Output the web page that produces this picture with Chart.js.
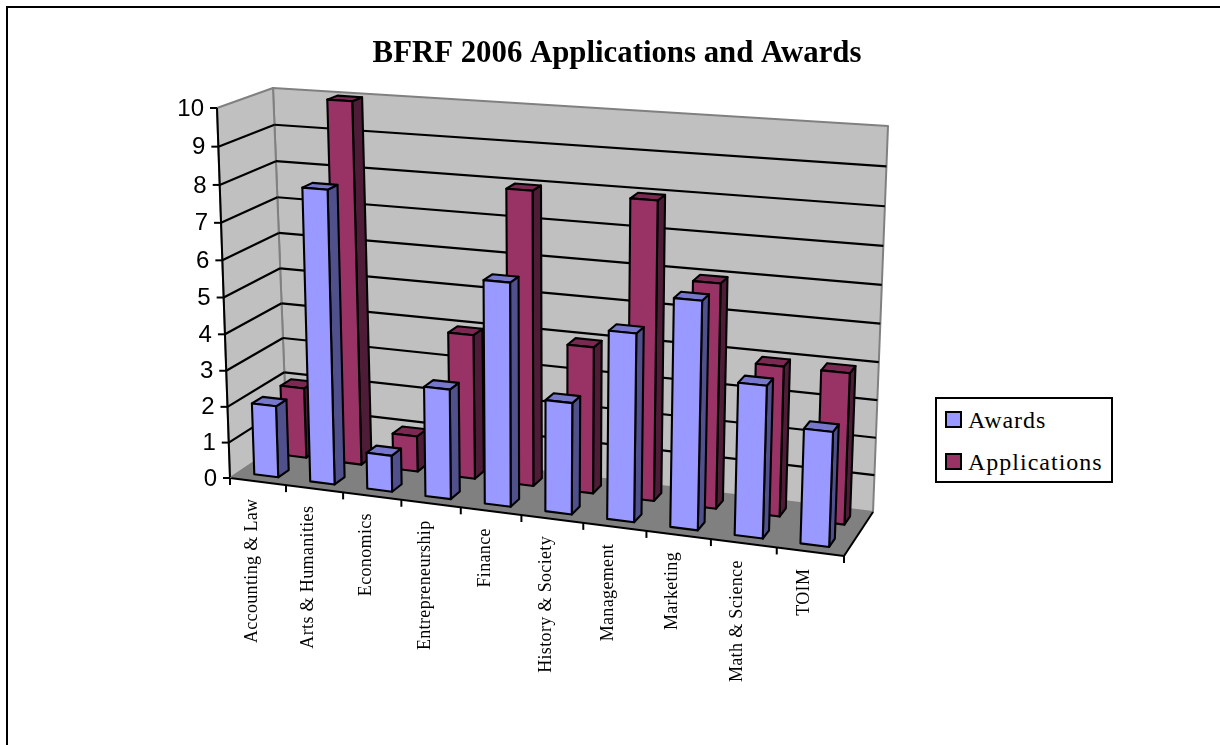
<!DOCTYPE html>
<html>
<head>
<meta charset="utf-8">
<title>BFRF 2006 Applications and Awards</title>
<script src="https://cdn.jsdelivr.net/npm/chart.js@4"></script>
<style>
  html, body { margin: 0; background: #fff; }
  #wrap { position: relative; width: 1220px; height: 745px; overflow: hidden; }
  #frame { position: absolute; left: 6px; top: 6px; width: 1300px; height: 800px; border: 2px solid #000; box-sizing: border-box; }
  canvas { position: absolute; left: 0; top: 0; }
  #legend { position: absolute; left: 935px; top: 397px; width: 178px; height: 86px; border: 2px solid #000; box-sizing: border-box; background: #fff;
            font: 24px "Liberation Serif", serif; letter-spacing: 1px; color: #000; }
  #legend div { position: absolute; left: 8px; white-space: nowrap; line-height: 28px; }
  #legend i { display: inline-block; width: 13px; height: 13px; border: 2px solid #000; margin-right: 6px; }
</style>
</head>
<body>
<div id="wrap">
  <div id="frame"></div>
  <canvas id="chart" width="1220" height="745"></canvas>
  <div id="legend"></div>
</div>
<script>
const titleText = "BFRF 2006 Applications and Awards";
const categories = ["Accounting & Law", "Arts & Humanities", "Economics", "Entrepreneurship", "Finance",
  "History & Society", "Management", "Marketing", "Math & Science", "TOIM"];
const awards = [2, 8, 1, 3, 6, 3, 5, 6, 4, 3];
const applications = [2, 10, 1, 4, 8, 4, 8, 6, 4, 4];
const valueTicks = [0, 1, 2, 3, 4, 5, 6, 7, 8, 9, 10];

// box corners of the old 3D plot on screen: floor and top, front and back
const box = {
  floorFront: [[230, 478], [844, 556]],
  floorBack: [[287, 440], [873, 512]],
  topFront: [[217, 108], [858, 156]],
  topBack: [[273, 88], [888, 126]],
};
const perspective = 1.107;   // categories get wider towards the right
const perspectiveUp = 1.05;  // value steps get a bit wider towards the top
// each series sits in its own row, front to back
const rows = [[0.15, 0.34], [0.66, 0.85]];
const shades = [
  { front: "#9999FF", side: "#50508C", top: "#7777CC" },
  { front: "#993366", side: "#4F1C38", top: "#7A2952" },
];

function lerp(a, b, t) { return [a[0] + (b[0] - a[0]) * t, a[1] + (b[1] - a[1]) * t]; }

// u along categories, d into the depth, v up the value axis, all 0..1
function project(u, d, v) {
  const w = u / (u + (1 - u) * perspective);
  const h = v / (v + (1 - v) * perspectiveUp);
  const floor = lerp(lerp(box.floorFront[0], box.floorFront[1], w), lerp(box.floorBack[0], box.floorBack[1], w), d);
  const top = lerp(lerp(box.topFront[0], box.topFront[1], w), lerp(box.topBack[0], box.topBack[1], w), d);
  return lerp(floor, top, h);
}

function poly(ctx, pts, fill, stroke, lw) {
  ctx.beginPath();
  pts.forEach((p, i) => i ? ctx.lineTo(p[0], p[1]) : ctx.moveTo(p[0], p[1]));
  ctx.closePath();
  if (fill) { ctx.fillStyle = fill; ctx.fill(); }
  if (stroke) { ctx.strokeStyle = stroke; ctx.lineWidth = lw; ctx.lineJoin = "round"; ctx.stroke(); }
}

function line(ctx, a, b, color, lw) {
  ctx.beginPath();
  ctx.moveTo(a[0], a[1]);
  ctx.lineTo(b[0], b[1]);
  ctx.strokeStyle = color;
  ctx.lineWidth = lw;
  ctx.stroke();
}

// scale pixels to 0..1
function normX(chart, px) { const s = chart.scales.x; return (px - s.left) / (s.right - s.left); }
function normY(chart, px) { const s = chart.scales.y; return (s.bottom - px) / (s.bottom - s.top); }

let drawing = null;

// bar elements keep their scale geometry, only the painting goes through the projection
Chart.BarElement.prototype.draw = function (ctx) {
  const chart = drawing.chart;
  const ds = drawing.index;
  const { x, y, base, width } = this.getProps(["x", "y", "base", "width"], true);
  const u1 = normX(chart, x - width / 2), u2 = normX(chart, x + width / 2);
  const v0 = normY(chart, base), v1 = normY(chart, y);
  const [d1, d2] = rows[ds];
  const c = shades[ds];
  ctx.save();
  poly(ctx, [project(u2, d1, v0), project(u2, d2, v0), project(u2, d2, v1), project(u2, d1, v1)], c.side, "#000", 2.1);
  poly(ctx, [project(u1, d1, v1), project(u2, d1, v1), project(u2, d2, v1), project(u1, d2, v1)], c.top, "#000", 2.1);
  poly(ctx, [project(u1, d1, v0), project(u2, d1, v0), project(u2, d1, v1), project(u1, d1, v1)], c.front, "#000", 2.1);
  ctx.restore();
};

const walls = {
  id: "walls",
  beforeDatasetDraw(chart, args) { drawing = { chart, index: args.index }; },
  beforeDatasetsDraw(chart) {
    const ctx = chart.ctx;
    const ys = chart.scales.y, xs = chart.scales.x;
    ctx.save();
    // back wall, left wall, floor
    poly(ctx, [project(0, 1, 0), project(1, 1, 0), project(1, 1, 1), project(0, 1, 1)], "#C0C0C0", "#808080", 2);
    poly(ctx, [project(0, 0, 0), project(0, 1, 0), project(0, 1, 1), project(0, 0, 1)], "#C0C0C0", "#808080", 2);
    poly(ctx, [project(0, 0, 0), project(1, 0, 0), project(1, 1, 0), project(0, 1, 0)], "#808080", null, 0);

    // gridlines, ticks and value labels
    ctx.font = '24px "Liberation Sans", Arial, sans-serif';
    ctx.fillStyle = "#000";
    ctx.textAlign = "right";
    ctx.textBaseline = "middle";
    ys.ticks.forEach(t => {
      const v = normY(chart, ys.getPixelForValue(t.value));
      const front = project(0, 0, v);
      if (t.value > 0 && t.value < 10) {
        line(ctx, front, project(0, 1, v), "#000", 2.2);
        line(ctx, project(0, 1, v), project(1, 1, v), "#000", 2.2);
      }
      line(ctx, [front[0] - 7, front[1]], front, "#000", 2);
      ctx.fillStyle = "#000";
      ctx.fillText(t.label, front[0] - 13, front[1] + 1);
    });

    // axis lines on the front edges
    line(ctx, project(0, 0, 0), project(0, 0, 1), "#000", 2);
    line(ctx, project(0, 0, 0), project(1, 0, 0), "#000", 2);
    line(ctx, project(1, 0, 0), project(1, 1, 0), "#000", 2);
    line(ctx, project(0, 0, 0), project(0, 1, 0), "#808080", 1);

    // category ticks and rotated labels
    ctx.font = '18px "Liberation Serif", "Times New Roman", serif';
    ctx.letterSpacing = "0.35px";
    ctx.textAlign = "right";
    ctx.textBaseline = "middle";
    const n = categories.length;
    for (let i = 0; i <= n; i++) {
      const p = project(i / n, 0, 0);
      line(ctx, p, [p[0], p[1] + 7], "#000", 2);
    }
    xs.ticks.forEach((t, i) => {
      const p = project(normX(chart, xs.getPixelForValue(t.value)), 0, 0);
      ctx.save();
      ctx.translate(p[0] - 6, p[1] + 17);
      ctx.rotate(-Math.PI / 2);
      ctx.fillStyle = "#000";
      ctx.fillText(categories[i], 0, 0);
      ctx.restore();
    });
    ctx.restore();
  },
};

const chart = new Chart(document.getElementById("chart"), {
  type: "bar",
  data: {
    labels: categories,
    datasets: [
      { label: "Awards", data: awards, backgroundColor: shades[0].front, borderColor: "#000" },
      { label: "Applications", data: applications, backgroundColor: shades[1].front, borderColor: "#000" },
    ],
  },
  options: {
    responsive: false,
    animation: false,
    events: [],
    layout: { padding: { left: 14 } },
    datasets: { bar: { grouped: false, categoryPercentage: 1, barPercentage: 0.43 } },
    plugins: {
      legend: { display: false },
      tooltip: { enabled: false },
      title: {
        display: true,
        text: titleText,
        color: "#000",
        font: { family: '"Liberation Serif", "Times New Roman", serif', size: 30.8, weight: "bold" },
        padding: { top: 36, bottom: 10 },
      },
    },
    scales: {
      x: { display: false },
      y: { display: false, min: 0, max: 10, afterBuildTicks(s) { s.ticks = valueTicks.map(v => ({ value: v, label: String(v) })); } },
    },
  },
  plugins: [walls],
});

// legend box, built from the datasets
const legendEl = document.getElementById("legend");
chart.data.datasets.forEach((ds, i) => {
  const row = document.createElement("div");
  row.style.top = (i === 0 ? 7 : 49) + "px";
  row.innerHTML = `<i style="background:${ds.backgroundColor}"></i>${ds.label}`;
  legendEl.appendChild(row);
});
</script>
</body>
</html>
